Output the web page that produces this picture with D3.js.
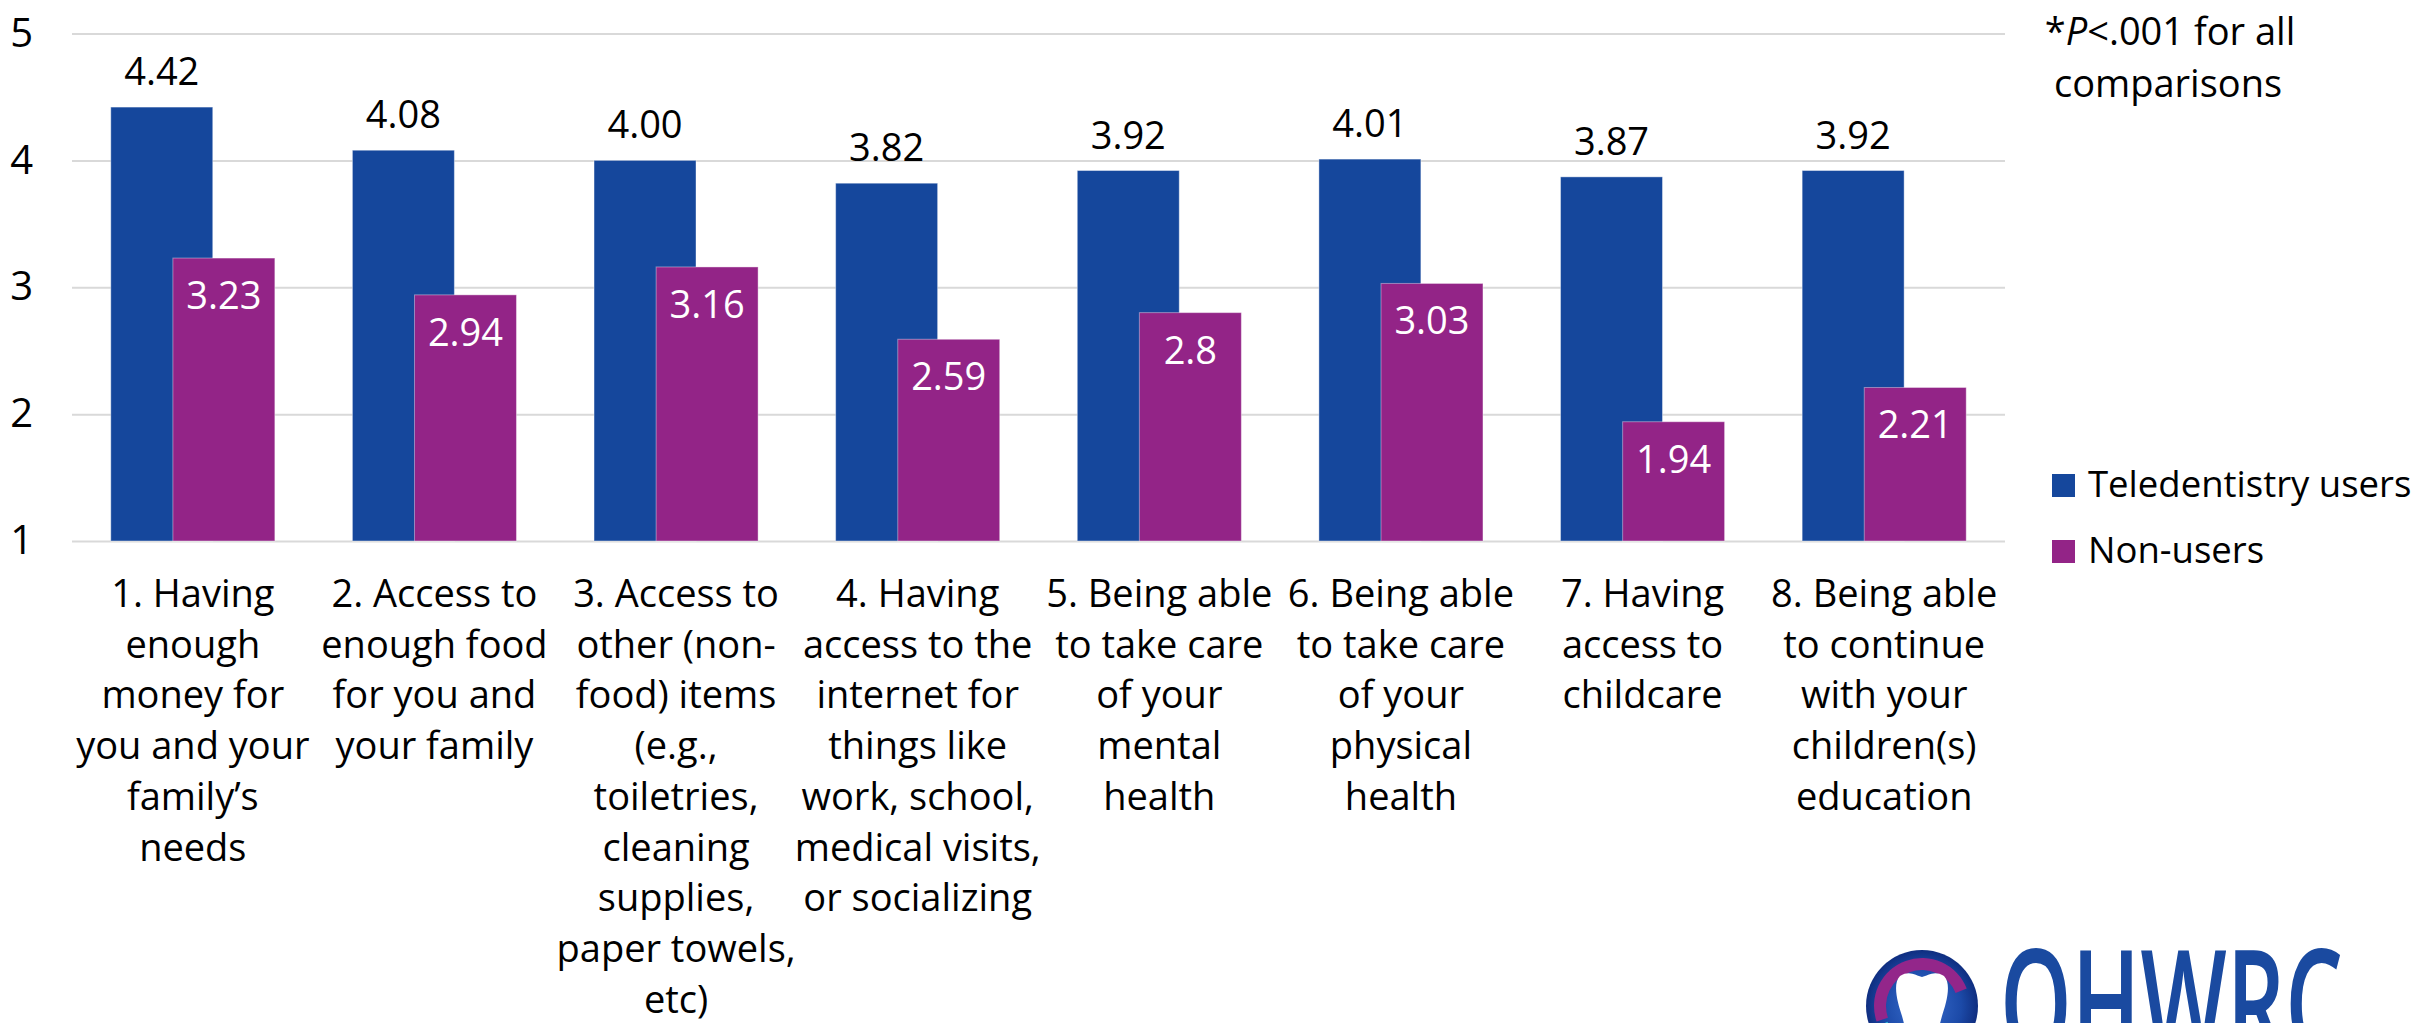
<!DOCTYPE html>
<meta charset="utf-8">
<style>
body { margin: 0; background: #fff; }
text { font-family: "Open Sans", sans-serif; fill: #000; }
.grid line { stroke: #d9d9d9; stroke-width: 2px; }
.grid .domain { display: none; }
</style>
<svg width="2422" height="1023"></svg>
<script src="https://cdn.jsdelivr.net/npm/d3@7"></script>
<script>

var categories = [
  ["1. Having", "enough", "money for", "you and your", "family\u2019s", "needs"],
  ["2. Access to", "enough food", "for you and", "your family"],
  ["3. Access to", "other (non-", "food) items", "(e.g.,", "toiletries,", "cleaning", "supplies,", "paper towels,", "etc)"],
  ["4. Having", "access to the", "internet for", "things like", "work, school,", "medical visits,", "or socializing"],
  ["5. Being able", "to take care", "of your", "mental", "health"],
  ["6. Being able", "to take care", "of your", "physical", "health"],
  ["7. Having", "access to", "childcare"],
  ["8. Being able", "to continue", "with your", "children(s)", "education"]
];
var users = [4.42, 4.08, 4.00, 3.82, 3.92, 4.01, 3.87, 3.92];
var userLabels = ["4.42", "4.08", "4.00", "3.82", "3.92", "4.01", "3.87", "3.92"];
var nonUsers = [3.23, 2.94, 3.16, 2.59, 2.80, 3.03, 1.94, 2.21];
var nonUserLabels = ["3.23", "2.94", "3.16", "2.59", "2.8", "3.03", "1.94", "2.21"];
var yTicks = [1, 2, 3, 4, 5];
var seriesNames = ["Teledentistry users", "Non-users"];
var colors = ["#15479c", "#932487"];

var svg = d3.select("svg");

var x = d3.scaleBand().domain(d3.range(categories.length)).range([72, 2005]).padding(0);
var y = d3.scaleLinear().domain([1, 5]).range([541, 33.5]);

var bw = x.bandwidth();
var barW = bw * 0.422;
var shift = bw * 0.257;
var pad = (bw - barW - shift) / 2;

// gridlines
svg.append("g")
  .attr("class", "grid")
  .attr("transform", "translate(72,0)")
  .call(d3.axisLeft(y).tickValues(yTicks).tickSize(-(2005 - 72)).tickFormat(""));

// y tick labels
svg.append("g").selectAll("text")
  .data(yTicks)
  .join("text")
  .attr("x", 33)
  .attr("y", function(d) { return y(d); })
  .attr("dy", "0.33em")
  .attr("text-anchor", "end")
  .style("font-size", "40px")
  .text(function(d) { return d; });

// blue bars
svg.append("g").selectAll("rect")
  .data(users)
  .join("rect")
  .attr("x", function(d, i) { return x(i) + pad; })
  .attr("y", function(d) { return y(d); })
  .attr("width", barW)
  .attr("height", function(d) { return y(1) - y(d); })
  .attr("fill", colors[0])
  .attr("stroke", "#fff").attr("stroke-opacity", 0.4).attr("stroke-width", 1);

// purple bars
svg.append("g").selectAll("rect")
  .data(nonUsers)
  .join("rect")
  .attr("x", function(d, i) { return x(i) + pad + shift; })
  .attr("y", function(d) { return y(d); })
  .attr("width", barW)
  .attr("height", function(d) { return y(1) - y(d); })
  .attr("fill", colors[1])
  .attr("stroke", "#fff").attr("stroke-opacity", 0.4).attr("stroke-width", 1);

// value labels
svg.append("g").selectAll("text")
  .data(users)
  .join("text")
  .attr("x", function(d, i) { return x(i) + pad + barW / 2; })
  .attr("y", function(d) { return y(d) - 22; })
  .attr("text-anchor", "middle")
  .style("font-size", "38px")
  .text(function(d, i) { return userLabels[i]; });

svg.append("g").selectAll("text")
  .data(nonUsers)
  .join("text")
  .attr("x", function(d, i) { return x(i) + pad + shift + barW / 2; })
  .attr("y", function(d) { return y(d) + 51; })
  .attr("text-anchor", "middle")
  .style("font-size", "38px")
  .style("fill", "#fff")
  .text(function(d, i) { return nonUserLabels[i]; });

// category labels
var cat = svg.append("g").selectAll("text")
  .data(categories)
  .join("text")
  .attr("text-anchor", "middle")
  .style("font-size", "38px");
cat.selectAll("tspan")
  .data(function(d, i) { return d.map(function(s) { return {s: s, i: i}; }); })
  .join("tspan")
  .attr("x", function(d) { return x(d.i) + bw / 2; })
  .attr("y", function(d, j) { return 607 + j * 50.7; })
  .text(function(d) { return d.s; });

// legend
var leg = svg.append("g").selectAll("g")
  .data(seriesNames)
  .join("g")
  .attr("transform", function(d, i) { return "translate(2052," + (474 + i * 66) + ")"; });
leg.append("rect").attr("width", 23).attr("height", 23).attr("fill", function(d, i) { return colors[i]; });
leg.append("text").attr("x", 36).attr("y", 23).style("font-size", "36.5px").text(function(d) { return d; });

// note
var note = svg.append("text").attr("text-anchor", "middle").style("font-size", "38px");
var l1 = note.append("tspan").attr("x", 2170).attr("y", 45);
l1.append("tspan").text("*");
l1.append("tspan").style("font-style", "italic").text("P");
l1.append("tspan").text("<.001 for all");
note.append("tspan").attr("x", 2168).attr("y", 97).text("comparisons");

// logo
var defs = svg.append("defs");
var rg = defs.append("radialGradient").attr("id", "lg");
rg.append("stop").attr("offset", "0%").attr("stop-color", "#3a6fd0");
rg.append("stop").attr("offset", "70%").attr("stop-color", "#1c4aa8");
rg.append("stop").attr("offset", "100%").attr("stop-color", "#0f2e80");
var logo = svg.append("g").attr("transform", "translate(1922,1006)");
logo.append("circle").attr("r", 56).attr("fill", "url(#lg)");
logo.append("path")
  .attr("d", d3.arc().innerRadius(36).outerRadius(48).startAngle(-1.9).endAngle(1.2)())
  .attr("fill", "#93268a");
logo.append("path")
  .attr("d", d3.arc().innerRadius(38).outerRadius(47).startAngle(-2.8).endAngle(-2.0)())
  .attr("fill", "#2cc3d8");
logo.append("path")
  .attr("d", "M-22,-30 C-12,-36 -6,-30 0,-29 C6,-30 12,-36 22,-30 C30,-22 24,-2 20,10 C16,24 14,40 8,40 C4,40 4,22 0,22 C-4,22 -4,40 -8,40 C-14,40 -16,24 -20,10 C-24,-2 -30,-22 -22,-30 Z")
  .attr("fill", "#fff");
svg.append("text")
  .attr("x", 2000).attr("y", 1058)
  .attr("textLength", 343).attr("lengthAdjust", "spacingAndGlyphs")
  .style("font-size", "150px").style("font-weight", 600).style("fill", "#1a4aa0")
  .text("OHWRC");

</script>
